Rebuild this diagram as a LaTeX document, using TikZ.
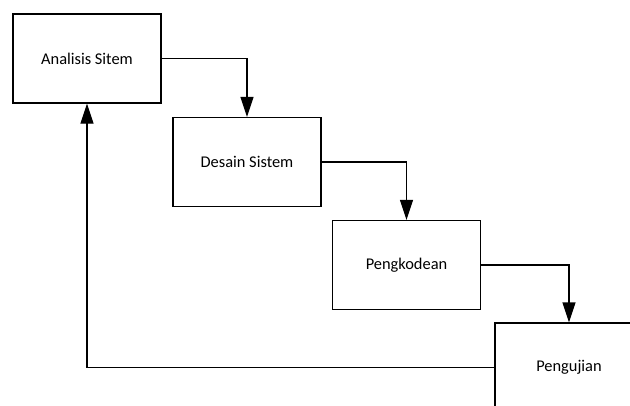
\documentclass[tikz,border=0pt]{standalone}
\usepackage{fontspec}
\setmainfont{Carlito}
\usetikzlibrary{arrows.meta}

\begin{document}
\begin{tikzpicture}[x=1pt,y=-1pt]
\tikzstyle{every node}+=[inner sep=0pt]
\tikzstyle{tahap}=[draw=black, line width=1.2pt, minimum width=148pt, minimum height=89pt, font=\fontsize{16.4}{19}\selectfont]
\tikzstyle{alur}=[draw=black, line width=1.2pt, -{Triangle[length=20pt,width=13pt]}]
\useasboundingbox (0,0) rectangle (630,405);
\clip (0,0) rectangle (630,405);
\node [tahap] (analisis) at (87,58.5) {Analisis Sitem};
\node [tahap] (desain) at (247,162) {Desain Sistem};
\node [tahap] (kode) at (406.5,265) {Pengkodean};
\node [tahap] (uji) at (569,367.5) {Pengujian};
\draw [alur] (analisis.east) -| (desain.north);
\draw [alur] (desain.east) -| (kode.north);
\draw [alur] (kode.east) -| (uji.north);
\draw [alur] (uji.west) -| (analisis.south);
\end{tikzpicture}
\end{document}
